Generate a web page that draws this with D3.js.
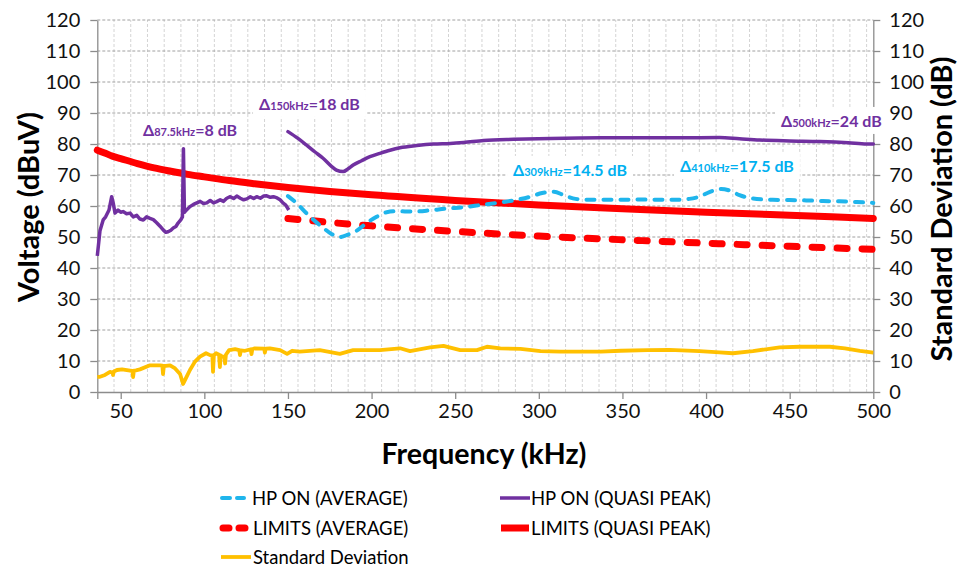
<!DOCTYPE html>
<html>
<head>
<meta charset="utf-8">
<script src="https://cdn.jsdelivr.net/npm/d3@7"></script>
<style>
  html, body { margin: 0; padding: 0; background: #fff; }
  svg { display: block; font-family: Lato, "Open Sans", sans-serif; }
</style>
</head>
<body>
<svg id="chart" width="957" height="571"></svg>
<script>
// ---- data (frequency in kHz, levels in dBuV / dB) ----
const limitQPFreq = [36, 40, 45, 50, 60, 70, 80, 90, 100, 115, 130, 150, 175, 200, 250, 300, 350, 400, 450, 500];
const limitQPVal  = [78, 77.2, 76.1, 75.3, 73.7, 72.3, 71.2, 70.2, 69.4, 68.2, 67.2, 66, 64.7, 63.6, 61.8, 60.3, 59.1, 58, 57, 56];

const limitAvgFreq = [150, 175, 200, 250, 300, 350, 400, 450, 500];
const limitAvgVal  = [56, 54.7, 53.6, 51.8, 50.3, 49.1, 48, 47, 46];

const hpAvgFreq = [150, 155, 161, 166, 171, 176, 181, 186, 191, 197, 203, 209, 215, 225, 235, 245, 255, 265, 275, 285, 295, 302, 309, 315, 322, 330, 340, 350, 360, 370, 380, 390, 396, 402, 409, 415, 420, 428, 440, 450, 460, 470, 480, 490, 500];
const hpAvgVal  = [63.2, 61, 57.7, 55.2, 53, 51, 50, 50.8, 52, 54.5, 56.5, 58, 58.3, 58.2, 58.6, 59.2, 59.6, 60.3, 61, 61.8, 63, 64.2, 64.6, 63.5, 62.3, 62, 62, 62, 62.1, 62, 62, 62.3, 63, 64.5, 65.5, 64.8, 63.5, 62.4, 62, 61.9, 61.8, 61.6, 61.5, 61.3, 61];

// quasi-peak, low band (measured sweep)
const hpQPLowFreq = [36, 37.6, 39.5, 41, 43, 44.6, 45.5, 46.6, 48.4, 50, 51.4, 53.5, 55.6, 57.5, 59.6, 61.5, 63.5, 65.5, 67.5, 69.5, 71.5, 73.5, 75.4, 77, 78.3, 80, 81.4, 83, 84.3, 86, 86.9, 87.5, 88.1, 89, 91.4, 93.5, 95.5, 97.5, 99.5, 101.5, 103.5, 105.5, 107.4, 109.5, 111.5, 113.4, 115.5, 117.5, 119.4, 121.5, 123.5, 125.4, 127.5, 129.5, 131.3, 133.5, 135.5, 137.3, 139.5, 141.3, 143.5, 145.3, 147, 148.7, 150.5];
const hpQPLowVal  = [43.9, 52, 55.5, 56.5, 58.7, 63, 61, 57.7, 58.7, 58, 58.2, 57.5, 57.7, 56.5, 57, 55.8, 55.5, 56.5, 56, 55.6, 54.6, 53.5, 52.3, 51.5, 51.7, 52.2, 52.9, 53.4, 54.5, 55.6, 56.5, 78.5, 58, 58.5, 59.8, 60.5, 61, 61.5, 60.8, 61, 61.8, 61, 61.4, 62, 61.5, 62.5, 63, 62.4, 63.2, 62.5, 62, 62.3, 63, 62.4, 63, 62.5, 63.2, 63.3, 62.8, 63, 62.6, 62, 61, 60.3, 58.7];

// quasi-peak, high band
const hpQPHighFreq = [150, 156, 161, 166, 171, 176, 179, 183, 186, 189, 194, 199, 205, 211, 217, 227, 237, 247, 255, 267, 285, 307, 337, 360, 385, 408, 420, 432, 450, 468, 485, 496, 500];
const hpQPHighVal  = [84, 81.8, 79.7, 77.5, 75.4, 72.8, 71.6, 71.1, 72, 73.2, 74.6, 75.9, 77, 78, 78.8, 79.5, 80, 80.2, 80.5, 81.1, 81.5, 81.8, 82, 82, 82, 82.1, 81.7, 81.3, 81, 80.8, 80.4, 80, 80];

const stdFreq = [36, 37.6, 40.6, 43.6, 45, 45.4, 45.9, 47.8, 50.8, 55.6, 57, 57.4, 57.9, 59.1, 61.5, 67.5, 73.5, 74.9, 75.3, 75.8, 77, 79.5, 82.5, 85.5, 87.3, 89, 91.4, 94.4, 97.4, 101, 103.4, 104.8, 105.2, 105.7, 107, 108.8, 109.3, 109.8, 110.6, 112, 112.4, 112.9, 114.8, 118.4, 120.9, 121.3, 121.8, 124.3, 127.8, 128.2, 128.7, 130.2, 135.8, 136.2, 136.7, 139.2, 145.3, 149.5, 152.5, 157, 169, 181, 189, 205, 217, 223, 235, 243, 253, 263, 269, 277, 289, 301, 313, 337, 349, 365, 378, 396, 408, 416, 428, 444, 456, 474, 483, 492, 500];
const stdVal  = [4.9, 4.9, 5.5, 6.5, 6.3, 5.5, 6.6, 7.1, 7.3, 6.9, 6.8, 4.8, 6.9, 7, 7.3, 8.6, 8.6, 8.5, 5.8, 8.4, 8.4, 8.6, 7.6, 5.8, 2.6, 4.5, 7.1, 9.8, 11.4, 12.5, 11.9, 11.8, 6.5, 11.9, 12.5, 12, 8, 11.8, 11.4, 11.5, 9.2, 12, 13.5, 13.8, 13.5, 11.9, 13.4, 13.3, 13.8, 12.2, 13.8, 14.1, 14, 12.7, 14, 14.1, 13.5, 12.3, 13.3, 13, 13.5, 12.3, 13.5, 13.5, 14.1, 13.2, 14.4, 14.9, 13.5, 13.5, 14.6, 14.1, 13.9, 13.2, 13, 13, 13.3, 13.5, 13.6, 13.2, 12.8, 12.5, 13.2, 14.4, 14.6, 14.6, 14.1, 13.3, 12.7];

const yTicks = [0, 10, 20, 30, 40, 50, 60, 70, 80, 90, 100, 110, 120];
const xTicks = [50, 100, 150, 200, 250, 300, 350, 400, 450, 500];

// margin notes: frequency subscript and level difference
const notes = [
  { sub: "87.5kHz", txt: "=8 dB",    color: "#7030A0", fx: 63.3,  vy: 82.6 },
  { sub: "150kHz",  txt: "=18 dB",   color: "#7030A0", fx: 132.7, vy: 91 },
  { sub: "309kHz",  txt: "=14.5 dB", color: "#00B0F0", fx: 284.6, vy: 69.7 },
  { sub: "410kHz",  txt: "=17.5 dB", color: "#00B0F0", fx: 384.4, vy: 71 },
  { sub: "500kHz",  txt: "=24 dB",   color: "#7030A0", fx: 444.8, vy: 85.5 }
];

// ---- layout ----
const svg = d3.select("#chart");
const x = d3.scaleLinear().domain([36, 500]).range([97.3, 873.3]);
const y = d3.scaleLinear().domain([0, 120]).range([392, 20]);
const yR = d3.scaleLinear().domain([0, 120]).range([392, 20]);

const C = { blue: "#1FB5EC", purple: "#7030A0", red: "#FF0000", orange: "#FFC000" };

// grid
const grid = svg.append("g");
grid.selectAll("line.v").data(d3.range(46, 500, 10)).join("line")
  .attr("x1", d => x(d)).attr("x2", d => x(d))
  .attr("y1", y(0)).attr("y2", y(120))
  .attr("stroke", "#d4d4d4").attr("stroke-width", 1).attr("stroke-dasharray", "3,2");
grid.selectAll("line.h").data(yTicks.slice(1)).join("line")
  .attr("x1", x(36)).attr("x2", x(500))
  .attr("y1", d => y(d)).attr("y2", d => y(d))
  .attr("stroke", "#a0a0a0").attr("stroke-width", 1).attr("stroke-dasharray", "3,2");

// axes
const axisStyle = g => {
  g.select(".domain").attr("stroke", "#8c8c8c").attr("stroke-width", 1.3);
  g.selectAll(".tick line").attr("stroke", "#8c8c8c").attr("stroke-width", 1.3);
  g.selectAll(".tick text").attr("fill", "#111").attr("font-size", 20).attr("font-family", "Lato");
};
svg.append("g").attr("transform", `translate(${x(36)},0)`)
  .call(d3.axisLeft(y).tickValues(yTicks).tickSize(7).tickSizeOuter(0).tickPadding(10))
  .call(axisStyle);
svg.append("g").attr("transform", `translate(${x(500)},0)`)
  .call(d3.axisRight(yR).tickValues(yTicks).tickSize(7).tickSizeOuter(0).tickPadding(9))
  .call(axisStyle);
svg.append("g").attr("transform", `translate(0,${y(0)})`)
  .call(d3.axisBottom(x).tickValues([36].concat(xTicks)).tickFormat(d => d === 36 ? "" : d)
    .tickSize(7).tickSizeOuter(0).tickPadding(5))
  .call(axisStyle);

// note backgrounds
const noteG = svg.append("g");

// series
const line = (fx, fy, sc) => d3.line().x((d, i) => x(fx[i])).y((d, i) => sc(fy[i])).curve(d3.curveMonotoneX);
const drawLine = (fx, fy, sc, color, w, dash) => {
  svg.append("path").datum(fx)
    .attr("d", line(fx, fy, sc))
    .attr("fill", "none").attr("stroke", color).attr("stroke-width", w)
    .attr("stroke-linecap", "round").attr("stroke-linejoin", "round")
    .attr("stroke-dasharray", dash || null);
};
drawLine(limitQPFreq, limitQPVal, y, C.red, 7);
drawLine(limitAvgFreq, limitAvgVal, y, C.red, 7, "10,15");
drawLine(hpAvgFreq, hpAvgVal, y, C.blue, 4, "8,9");
const linLine = (fx, fy) => d3.line().x((d, i) => x(fx[i])).y((d, i) => y(fy[i]));
svg.append("path").datum(hpQPLowFreq).attr("d", linLine(hpQPLowFreq, hpQPLowVal))
  .attr("fill", "none").attr("stroke", C.purple).attr("stroke-width", 3.5).attr("stroke-linejoin", "round");
drawLine(hpQPHighFreq, hpQPHighVal, y, C.purple, 3.5);
svg.append("path").datum(stdFreq).attr("d", linLine(stdFreq, stdVal).y((d, i) => yR(stdVal[i])))
  .attr("fill", "none").attr("stroke", C.orange).attr("stroke-width", 3.8).attr("stroke-linejoin", "round");

// notes
notes.forEach(n => {
  const t = svg.append("text").attr("x", x(n.fx)).attr("y", y(n.vy))
    .attr("fill", n.color).attr("font-weight", "bold").attr("font-size", 16).attr("font-family", "Lato");
  t.append("tspan").text("Δ");
  t.append("tspan").attr("font-size", 11).text(n.sub);
  t.append("tspan").text(n.txt);
  const bb = t.node().getBBox();
  noteG.append("rect").attr("x", bb.x - 6).attr("y", bb.y - 4)
    .attr("width", bb.width + 12).attr("height", bb.height + 8).attr("fill", "#fff");
});

// axis titles, sized to a target run length
const title = (tx, ty, rot, text, len) => {
  const t = svg.append("text")
    .attr("transform", `translate(${tx},${ty}) rotate(${rot})`)
    .attr("text-anchor", "middle").attr("dominant-baseline", "central")
    .attr("font-size", 25).attr("font-weight", "bold").attr("fill", "#000").text(text);
  const w = t.node().getComputedTextLength();
  t.attr("font-size", 25 * len / w);
};
title(27, 207, -90, "Voltage (dBuV)", 190);
title(940, 209, -90, "Standard Deviation (dB)", 305);
title(484, 453, 0, "Frequency (kHz)", 205);

// legend
const legend = [
  { label: "HP ON (AVERAGE)",     color: C.blue,   w: 4,   dash: "8,7", x0: 222, x1: 244, tx: 252, yy: 498 },
  { label: "HP ON (QUASI PEAK)",  color: C.purple, w: 3.5, dash: null,  x0: 500, x1: 530, tx: 531, yy: 498 },
  { label: "LIMITS (AVERAGE)",    color: C.red,    w: 7,   dash: "6,10", x0: 223, x1: 250, tx: 253, yy: 528 },
  { label: "LIMITS (QUASI PEAK)", color: C.red,    w: 7,   dash: null,  x0: 501, x1: 529, tx: 531, yy: 528 },
  { label: "Standard Deviation",  color: C.orange, w: 3.8, dash: null,  x0: 221, x1: 251, tx: 253, yy: 557 }
];
const lg = svg.append("g").selectAll("g").data(legend).join("g");
lg.append("line").attr("x1", d => d.x0).attr("x2", d => d.x1).attr("y1", d => d.yy).attr("y2", d => d.yy)
  .attr("stroke", d => d.color).attr("stroke-width", d => d.w)
  .attr("stroke-linecap", d => d.dash ? "round" : "butt")
  .attr("stroke-dasharray", d => d.dash);
lg.append("text").attr("x", d => d.tx).attr("y", d => d.yy).attr("dominant-baseline", "central")
  .attr("font-size", 18.5).attr("fill", "#000").text(d => d.label);
</script>
</body>
</html>
